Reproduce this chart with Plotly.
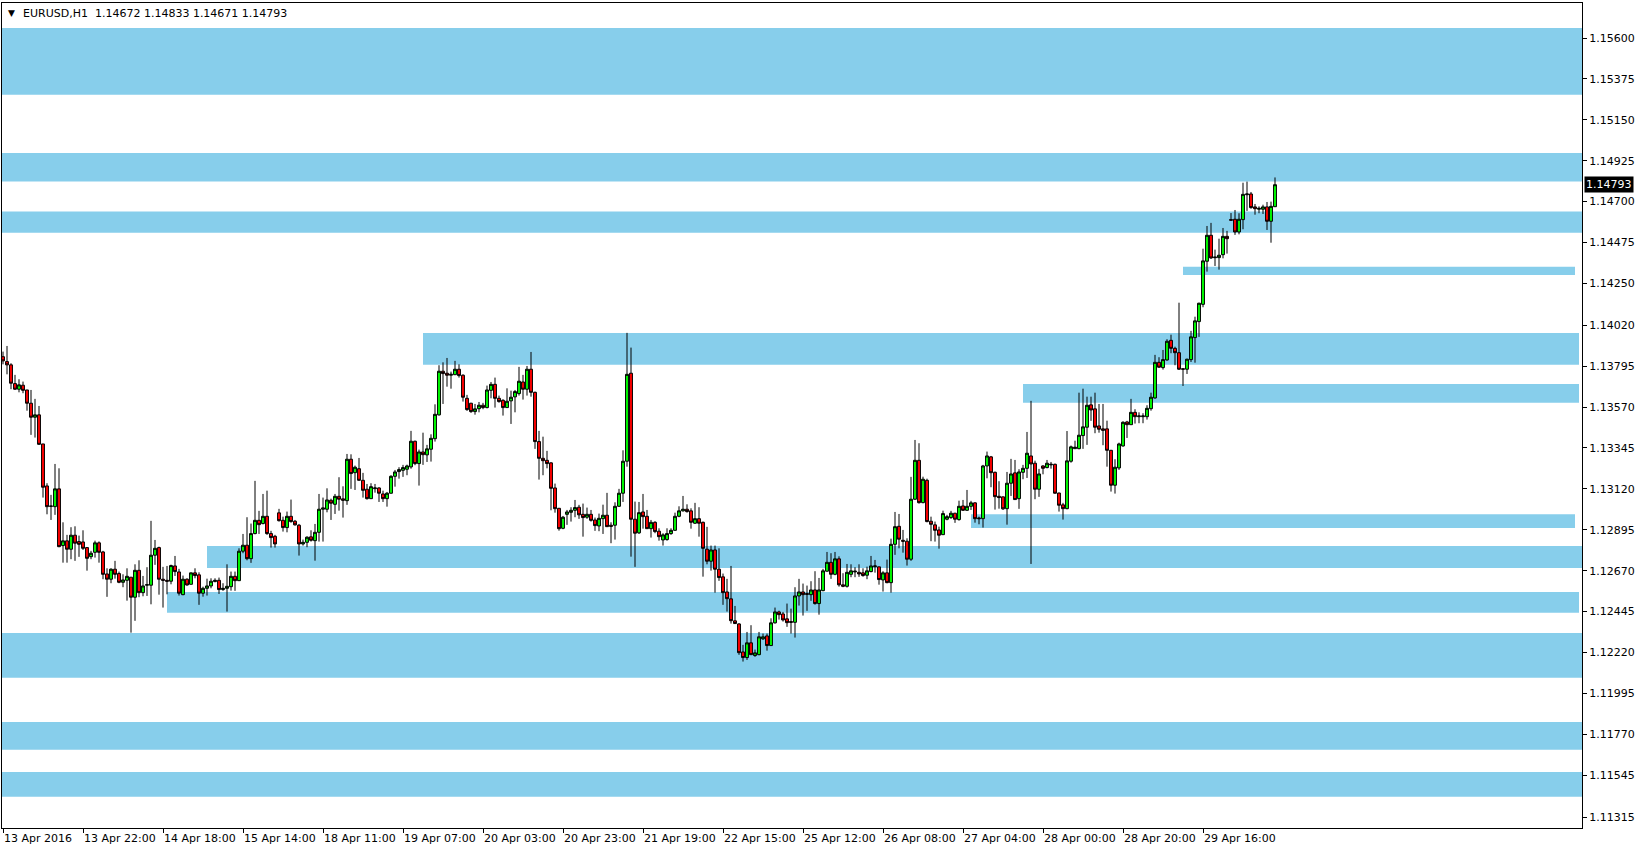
import plotly.graph_objects as go

# ---------------- data (EURUSD H1) ----------------
opens = [
1.13847,1.13820,1.13802,1.13699,1.13668,1.13690,1.13664,1.13591,1.13514,1.13527,
1.13367,1.13136,1.13026,1.13022,1.13120,1.12808,1.12834,1.12788,1.12865,1.12830,
1.12828,1.12797,1.12747,1.12771,1.12823,1.12773,1.12652,1.12623,1.12678,1.12654,
1.12606,1.12617,1.12634,1.12524,1.12672,1.12549,1.12590,1.12590,1.12755,1.12797,
1.12623,1.12617,1.12612,1.12696,1.12663,1.12538,1.12623,1.12595,1.12658,1.12647,
1.12546,1.12573,1.12586,1.12610,1.12617,1.12566,1.12573,1.12582,1.12639,1.12615,
1.12777,1.12810,1.12736,1.12874,1.12947,1.12929,1.12969,1.12874,1.12859,1.12988,
1.12947,1.12907,1.12969,1.12942,1.12920,1.12817,1.12826,1.12856,1.12835,1.12881,
1.13008,1.13008,1.13057,1.13035,1.13079,1.13065,1.13055,1.13283,1.13209,1.13231,
1.13167,1.13118,1.13066,1.13121,1.13125,1.13092,1.13066,1.13096,1.13189,1.13215,
1.13222,1.13228,1.13241,1.13382,1.13259,1.13323,1.13307,1.13338,1.13396,1.13527,
1.13767,1.13756,1.13745,1.13748,1.13778,1.13745,1.13618,1.13591,1.13545,1.13561,
1.13580,1.13567,1.13662,1.13695,1.13618,1.13607,1.13567,1.13604,1.13626,1.13644,
1.13708,1.13668,1.13778,1.13651,1.13380,1.13288,1.13277,1.13263,1.13125,1.13013,
1.12903,1.12980,1.12991,1.13002,1.13019,1.12980,1.12964,1.12980,1.12949,1.12916,
1.12956,1.12975,1.12920,1.12920,1.13024,1.13096,1.13272,1.13756,1.12953,1.12878,
1.12993,1.12969,1.12901,1.12936,1.12887,1.12839,1.12841,1.12874,1.12892,1.12969,
1.12999,1.13008,1.12999,1.12931,1.12956,1.12936,1.12788,1.12722,1.12784,1.12678,
1.12636,1.12553,1.12515,1.12394,1.12377,1.12223,1.12192,1.12273,1.12203,1.12208,
1.12295,1.12311,1.12258,1.12383,1.12443,1.12432,1.12405,1.12390,1.12386,1.12531,
1.12553,1.12544,1.12538,1.12564,1.12489,1.12560,1.12667,1.12716,1.12650,1.12735,
1.12592,1.12584,1.12650,1.12663,1.12661,1.12658,1.12645,1.12665,1.12692,1.12691,
1.12619,1.12658,1.12604,1.12815,1.12914,1.12837,1.12832,1.12733,1.13063,1.13277,
1.13044,1.13167,1.12942,1.12922,1.12894,1.12868,1.12953,1.12962,1.12986,1.12951,
1.13026,1.13002,1.13024,1.13043,1.12960,1.12956,1.13246,1.13296,1.13211,1.13079,
1.13076,1.13011,1.13151,1.13208,1.13066,1.13211,1.13233,1.13301,1.13261,1.13118,
1.13246,1.13237,1.13252,1.13255,1.13097,1.13032,1.13011,1.13272,1.13341,1.13341,
1.13413,1.13459,1.13582,1.13560,1.13466,1.13450,1.13450,1.13332,1.13140,1.13235,
1.13356,1.13488,1.13473,1.13541,1.13517,1.13517,1.13517,1.13561,1.13620,1.13816,
1.13787,1.13829,1.13937,1.13893,1.13869,1.13781,1.13778,1.13831,1.13952,1.14040,
1.14135,1.14372,1.14515,1.14396,1.14392,1.14408,1.14509,1.14601,1.14603,1.14533,
1.14601,1.14738,1.14742,1.14671,1.14658,1.14658,1.14671,1.14592,1.14672,
]
highs = [
1.13875,1.13906,1.13811,1.13747,1.13723,1.13710,1.13664,1.13664,1.13615,1.13576,
1.13367,1.13151,1.13087,1.13257,1.13233,1.12936,1.12867,1.12909,1.12914,1.12863,
1.12892,1.12800,1.12779,1.12835,1.12831,1.12779,1.12683,1.12683,1.12724,1.12665,
1.12650,1.12683,1.12634,1.12705,1.12727,1.12641,1.12689,1.12944,1.12839,1.12802,
1.12691,1.12696,1.12703,1.12751,1.12680,1.12643,1.12628,1.12659,1.12683,1.12661,
1.12582,1.12626,1.12628,1.12628,1.12632,1.12601,1.12705,1.12665,1.12665,1.12793,
1.12872,1.12964,1.12929,1.13164,1.12999,1.13092,1.13110,1.12889,1.12867,1.13010,
1.12967,1.12995,1.13061,1.12949,1.12927,1.12841,1.12859,1.12892,1.12927,1.13092,
1.13072,1.13123,1.13066,1.13092,1.13184,1.13134,1.13312,1.13310,1.13248,1.13290,
1.13208,1.13147,1.13151,1.13147,1.13129,1.13110,1.13103,1.13195,1.13224,1.13239,
1.13252,1.13253,1.13439,1.13385,1.13336,1.13429,1.13362,1.13420,1.13585,1.13800,
1.13816,1.13840,1.13765,1.13824,1.13805,1.13750,1.13637,1.13593,1.13587,1.13598,
1.13593,1.13688,1.13708,1.13732,1.13633,1.13613,1.13673,1.13660,1.13664,1.13791,
1.13747,1.13796,1.13873,1.13655,1.13439,1.13407,1.13329,1.13266,1.13149,1.13015,
1.12971,1.13004,1.13019,1.13059,1.13032,1.13039,1.13017,1.13004,1.12962,1.12984,
1.13033,1.13098,1.12936,1.13046,1.13120,1.13332,1.13978,1.13897,1.13050,1.13048,
1.13092,1.13004,1.12949,1.12942,1.12903,1.12876,1.12903,1.12903,1.12989,1.13024,
1.13081,1.13035,1.13013,1.13043,1.13019,1.12940,1.12911,1.12808,1.12808,1.12793,
1.12654,1.12625,1.12696,1.12476,1.12381,1.12262,1.12333,1.12370,1.12236,1.12333,
1.12324,1.12324,1.12408,1.12467,1.12450,1.12443,1.12489,1.12461,1.12579,1.12625,
1.12599,1.12588,1.12612,1.12667,1.12630,1.12680,1.12773,1.12766,1.12773,1.12749,
1.12656,1.12707,1.12705,1.12689,1.12705,1.12683,1.12692,1.12751,1.12729,1.12692,
1.12667,1.12731,1.12846,1.12993,1.12982,1.12894,1.12848,1.13186,1.13389,1.13371,
1.13187,1.13176,1.12967,1.12940,1.12912,1.13000,1.12977,1.12999,1.12988,1.13055,
1.13059,1.13114,1.13054,1.13046,1.12967,1.13252,1.13325,1.13301,1.13215,1.13162,
1.13077,1.13213,1.13285,1.13279,1.13228,1.13252,1.13433,1.13604,1.13275,1.13230,
1.13250,1.13279,1.13268,1.13259,1.13099,1.13043,1.13438,1.13358,1.13385,1.13649,
1.13671,1.13627,1.13627,1.13649,1.13587,1.13587,1.13495,1.13334,1.13283,1.13374,
1.13492,1.13494,1.13615,1.13558,1.13541,1.13536,1.13580,1.13649,1.13857,1.13844,
1.13884,1.13943,1.13968,1.13902,1.14144,1.13781,1.13836,1.13989,1.14067,1.14144,
1.14441,1.14566,1.14583,1.14436,1.14496,1.14555,1.14539,1.14637,1.14654,1.14636,
1.14804,1.14810,1.14753,1.14687,1.14674,1.14683,1.14698,1.14700,1.14833,
]
lows = [
1.13805,1.13750,1.13668,1.13664,1.13651,1.13646,1.13550,1.13417,1.13402,1.13362,
1.13072,1.12980,1.12949,1.12977,1.12799,1.12714,1.12714,1.12733,1.12724,1.12746,
1.12784,1.12670,1.12733,1.12742,1.12714,1.12623,1.12526,1.12601,1.12626,1.12601,
1.12579,1.12505,1.12329,1.12394,1.12524,1.12529,1.12531,1.12485,1.12702,1.12538,
1.12467,1.12540,1.12595,1.12641,1.12533,1.12535,1.12588,1.12595,1.12628,1.12482,
1.12527,1.12533,1.12573,1.12606,1.12542,1.12559,1.12445,1.12560,1.12559,1.12613,
1.12766,1.12727,1.12713,1.12870,1.12872,1.12925,1.12867,1.12797,1.12797,1.12940,
1.12885,1.12881,1.12934,1.12918,1.12753,1.12808,1.12799,1.12830,1.12725,1.12830,
1.12830,1.12991,1.12949,1.12982,1.13000,1.12962,1.13032,1.13120,1.13114,1.13164,
1.13072,1.13061,1.13065,1.13099,1.13048,1.13048,1.13022,1.13094,1.13132,1.13176,
1.13186,1.13195,1.13231,1.13250,1.13138,1.13252,1.13268,1.13270,1.13380,1.13523,
1.13587,1.13682,1.13671,1.13747,1.13732,1.13600,1.13549,1.13538,1.13528,1.13541,
1.13558,1.13563,1.13618,1.13567,1.13594,1.13523,1.13565,1.13477,1.13541,1.13633,
1.13611,1.13633,1.13627,1.13340,1.13171,1.13195,1.13233,1.13002,1.12989,1.12890,
1.12898,1.12922,1.12940,1.12964,1.12955,1.12857,1.12955,1.12940,1.12889,1.12887,
1.12872,1.12911,1.12821,1.12841,1.13021,1.13048,1.13242,1.12747,1.12691,1.12872,
1.12901,1.12900,1.12852,1.12876,1.12835,1.12808,1.12835,1.12867,1.12889,1.12964,
1.12995,1.12989,1.12901,1.12927,1.12857,1.12637,1.12705,1.12670,1.12549,1.12614,
1.12482,1.12445,1.12379,1.12377,1.12207,1.12170,1.12179,1.12207,1.12196,1.12205,
1.12289,1.12230,1.12256,1.12379,1.12401,1.12390,1.12361,1.12324,1.12302,1.12478,
1.12423,1.12449,1.12504,1.12483,1.12428,1.12557,1.12665,1.12625,1.12645,1.12582,
1.12579,1.12577,1.12634,1.12634,1.12636,1.12637,1.12623,1.12661,1.12659,1.12593,
1.12555,1.12601,1.12549,1.12757,1.12793,1.12769,1.12698,1.12724,1.13059,1.13039,
1.13041,1.12936,1.12832,1.12830,1.12791,1.12866,1.12947,1.12955,1.12933,1.12945,
1.12999,1.12999,1.13004,1.12934,1.12925,1.12907,1.13178,1.13129,1.13006,1.13011,
1.13004,1.12923,1.13081,1.13059,1.13010,1.13173,1.13180,1.12707,1.13063,1.13076,
1.13200,1.13233,1.13231,1.13094,1.12995,1.12951,1.13008,1.13264,1.13341,1.13338,
1.13340,1.13362,1.13494,1.13426,1.13429,1.13360,1.13242,1.13105,1.13094,1.13224,
1.13352,1.13400,1.13473,1.13479,1.13481,1.13481,1.13501,1.13550,1.13616,1.13785,
1.13776,1.13825,1.13866,1.13800,1.13774,1.13686,1.13752,1.13818,1.13814,1.13956,
1.14119,1.14315,1.14385,1.14346,1.14326,1.14388,1.14414,1.14596,1.14517,1.14520,
1.14548,1.14649,1.14661,1.14628,1.14636,1.14632,1.14544,1.14474,1.14671,
]
closes = [
1.13824,1.13802,1.13701,1.13668,1.13692,1.13662,1.13591,1.13514,1.13527,1.13365,
1.13129,1.13022,1.13024,1.13120,1.12802,1.12834,1.12788,1.12865,1.12821,1.12815,
1.12793,1.12738,1.12766,1.12823,1.12771,1.12650,1.12623,1.12678,1.12650,1.12606,
1.12619,1.12639,1.12524,1.12672,1.12549,1.12586,1.12593,1.12755,1.12793,1.12623,
1.12617,1.12612,1.12698,1.12665,1.12546,1.12623,1.12591,1.12658,1.12643,1.12546,
1.12573,1.12586,1.12612,1.12617,1.12566,1.12573,1.12584,1.12639,1.12615,1.12777,
1.12810,1.12736,1.12874,1.12947,1.12923,1.12969,1.12874,1.12852,1.12817,1.12945,
1.12907,1.12969,1.12940,1.12922,1.12817,1.12826,1.12854,1.12837,1.12881,1.13008,
1.13015,1.13059,1.13041,1.13079,1.13063,1.13057,1.13283,1.13204,1.13239,1.13167,
1.13112,1.13066,1.13132,1.13125,1.13096,1.13066,1.13096,1.13189,1.13213,1.13226,
1.13237,1.13246,1.13382,1.13259,1.13323,1.13308,1.13340,1.13398,1.13530,1.13767,
1.13754,1.13745,1.13750,1.13778,1.13743,1.13624,1.13556,1.13545,1.13560,1.13580,
1.13567,1.13664,1.13695,1.13618,1.13600,1.13567,1.13602,1.13624,1.13655,1.13712,
1.13668,1.13778,1.13651,1.13380,1.13288,1.13275,1.13259,1.13123,1.13011,1.12901,
1.12964,1.12993,1.13002,1.13017,1.12977,1.12962,1.12980,1.12947,1.12918,1.12958,
1.12975,1.12912,1.12914,1.13024,1.13096,1.13272,1.13750,1.12953,1.12876,1.12989,
1.12967,1.12901,1.12936,1.12885,1.12857,1.12867,1.12874,1.12892,1.12969,1.12999,
1.13008,1.12995,1.12936,1.12956,1.12931,1.12793,1.12722,1.12784,1.12678,1.12632,
1.12549,1.12516,1.12395,1.12379,1.12219,1.12192,1.12273,1.12208,1.12218,1.12306,
1.12306,1.12258,1.12383,1.12443,1.12428,1.12399,1.12384,1.12386,1.12531,1.12553,
1.12538,1.12540,1.12564,1.12489,1.12564,1.12669,1.12716,1.12650,1.12735,1.12592,
1.12584,1.12661,1.12669,1.12667,1.12652,1.12643,1.12669,1.12696,1.12696,1.12621,
1.12658,1.12604,1.12815,1.12912,1.12843,1.12832,1.12733,1.13063,1.13277,1.13044,
1.13173,1.12940,1.12925,1.12892,1.12865,1.12984,1.12967,1.12986,1.12953,1.13024,
1.13002,1.13024,1.13043,1.12956,1.12956,1.13246,1.13301,1.13209,1.13077,1.13072,
1.13010,1.13151,1.13202,1.13061,1.13213,1.13233,1.13316,1.13257,1.13118,1.13202,
1.13233,1.13261,1.13255,1.13096,1.13030,1.13011,1.13274,1.13351,1.13349,1.13415,
1.13461,1.13580,1.13554,1.13459,1.13448,1.13442,1.13332,1.13140,1.13239,1.13367,
1.13486,1.13473,1.13541,1.13517,1.13521,1.13521,1.13563,1.13624,1.13816,1.13789,
1.13831,1.13932,1.13893,1.13869,1.13778,1.13778,1.13833,1.13956,1.14044,1.14141,
1.14374,1.14515,1.14390,1.14392,1.14405,1.14509,1.14496,1.14598,1.14533,1.14603,
1.14740,1.14742,1.14667,1.14661,1.14663,1.14671,1.14592,1.14674,1.14793,
]

# support / resistance zones (price band, first bar, last bar)
zone_low   = [1.15288, 1.14810, 1.14529, 1.14296, 1.13803, 1.13594, 1.12905, 1.12685, 1.12439, 1.12081, 1.11685, 1.11427]
zone_high  = [1.15655, 1.14967, 1.14645, 1.14342, 1.13977, 1.13697, 1.12980, 1.12806, 1.12553, 1.12327, 1.11838, 1.11563]
zone_start = [-1, -1, -1, 295, 105, 255, 242, 51, 41, -1, -1, -1]
zone_end   = [400, 400, 400, 393, 394, 394, 393, 400, 394, 400, 400, 400]

price_ticks = [1.15600, 1.15375, 1.15150, 1.14925, 1.14700, 1.14475, 1.14250, 1.14020, 1.13795,
               1.13570, 1.13345, 1.13120, 1.12895, 1.12670, 1.12445, 1.12220, 1.11995, 1.11770,
               1.11545, 1.11315]
time_tick_bars = [0, 20, 40, 60, 80, 100, 120, 140, 160, 180, 200, 220, 240, 260, 280, 300]
time_tick_labels = ["13 Apr 2016", "13 Apr 22:00", "14 Apr 18:00", "15 Apr 14:00", "18 Apr 11:00",
                    "19 Apr 07:00", "20 Apr 03:00", "20 Apr 23:00", "21 Apr 19:00", "22 Apr 15:00",
                    "25 Apr 12:00", "26 Apr 08:00", "27 Apr 04:00", "28 Apr 00:00", "28 Apr 20:00",
                    "29 Apr 16:00"]

symbol = "EURUSD,H1"
last_open, last_high, last_low, last_close = 1.14672, 1.14833, 1.14671, 1.14793

# ---------------- figure ----------------
bars = list(range(len(opens)))
FONT = "DejaVu Sans"

fig = go.Figure()
fig.add_trace(go.Candlestick(
    x=bars, open=opens, high=highs, low=lows, close=closes,
    increasing=dict(line=dict(color="black", width=1), fillcolor="#00ff00"),
    decreasing=dict(line=dict(color="black", width=1), fillcolor="#ff0000"),
    whiskerwidth=0, showlegend=False, hoverinfo="skip",
))

for lo, hi, s, e in zip(zone_low, zone_high, zone_start, zone_end):
    fig.add_shape(type="rect", xref="x", yref="y", x0=s, x1=e, y0=lo, y1=hi,
                  fillcolor="#87ceeb", line=dict(width=0), layer="below")

fig.add_annotation(xref="paper", yref="paper", x=0, y=1, xshift=9, yshift=-10,
                   xanchor="center", yanchor="middle", text="\u25bc", showarrow=False,
                   font=dict(family=FONT, size=9, color="black"))
fig.add_annotation(xref="paper", yref="paper", x=0, y=1, xshift=19, yshift=-10,
                   xanchor="left", yanchor="middle", showarrow=False,
                   text=f"{symbol}\u00a0\u00a0{last_open:.5f} {last_high:.5f} {last_low:.5f} {last_close:.5f}",
                   font=dict(family=FONT, size=11, color="black"))
fig.add_annotation(xref="paper", yref="y", x=1, y=last_close, xshift=2,
                   xanchor="left", yanchor="middle", showarrow=False,
                   text=f"{last_close:.5f}", bgcolor="black", borderpad=1,
                   font=dict(family=FONT, size=11, color="white"))

fig.update_layout(
    width=1642, height=852,
    margin=dict(l=2, r=60, t=3, b=24, autoexpand=False),
    paper_bgcolor="white", plot_bgcolor="white",
    boxgap=0.2, boxgroupgap=0.1,
    font=dict(family=FONT, size=11, color="black"),
    xaxis=dict(
        range=[-0.25, 394.75], rangeslider=dict(visible=False),
        tickmode="array", tickvals=time_tick_bars, ticktext=time_tick_labels,
        ticks="outside", ticklen=4, tickcolor="black", tickwidth=1,
        ticklabelposition="outside right", tickangle=0, automargin=False,
        showgrid=False, zeroline=False, showline=True, linecolor="black", linewidth=1, mirror=True,
        tickfont=dict(family=FONT, size=11, color="black"),
    ),
    yaxis=dict(
        side="right", range=[1.112545, 1.157925], automargin=False,
        tickmode="array", tickvals=price_ticks, ticktext=[f"{v:.5f}" for v in price_ticks],
        ticks="outside", ticklen=4, tickcolor="black", tickwidth=1,
        showgrid=False, zeroline=False, showline=True, linecolor="black", linewidth=1, mirror=True,
        tickfont=dict(family=FONT, size=11, color="black"),
    ),
)

fig.write_html("out.html", config={"displayModeBar": False},
               post_script="document.body.style.margin='0';document.body.style.overflow='hidden';")
